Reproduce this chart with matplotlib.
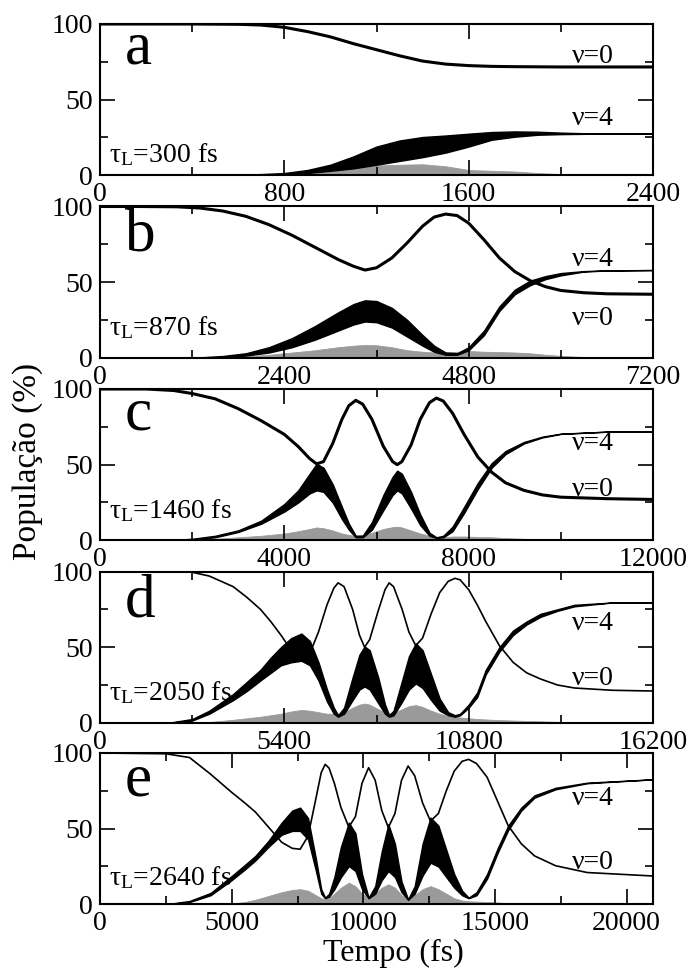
import matplotlib
matplotlib.use('Agg')
import matplotlib.pyplot as plt
from matplotlib.ticker import MultipleLocator

plt.rcParams['font.family'] = ['Liberation Serif', 'DejaVu Serif']
plt.rcParams['mathtext.fontset'] = 'custom'
plt.rcParams['mathtext.rm'] = 'Liberation Serif'
plt.rcParams['mathtext.it'] = 'Liberation Serif:italic'

# panel a, tau_L = 300 fs
a_t = [0, 200, 400, 600, 700, 800, 900, 1000, 1100, 1200, 1300, 1400, 1500, 1600, 1700, 1800, 1900, 2000, 2100, 2200, 2400]
a_nu0 = [100, 100, 100, 99.8, 99.3, 97.8, 95, 91.5, 87, 83, 79, 75.5, 73.5, 72.5, 72, 71.8, 71.7, 71.6, 71.6, 71.6, 71.6]
a_nu4_lo = [0, 0, 0, 0.1, 0.3, 0.7, 1.5, 3, 4.6, 7, 9.5, 12, 15, 19, 23.5, 25.5, 26.8, 27.2, 27.4, 27.5, 27.5]
a_nu4_hi = [0, 0, 0, 0.3, 0.8, 1.5, 3.5, 7, 12.5, 19, 23, 25.3, 26.3, 27.5, 28.6, 29, 28.8, 28.2, 27.8, 27.6, 27.5]
a_gray = [0, 0, 0, 0, 0.3, 1, 2, 4, 5.5, 6.5, 7, 7.3, 6, 3.5, 3, 2.5, 1.5, 0.8, 0.3, 0, 0]

# panel b, tau_L = 870 fs
b_t = [0, 500, 1000, 1300, 1600, 1900, 2200, 2500, 2800, 3100, 3300, 3450, 3600, 3800, 4000, 4200, 4350, 4500,
       4650, 4800, 5000, 5200, 5400, 5600, 5800, 6000, 6300, 6600, 7200]
b_nu0 = [100, 100, 99.8, 99, 97, 93.5, 88, 81, 73, 65, 60.5, 58, 59.5, 66, 76, 87, 93, 95, 94, 89, 78, 66, 57, 51,
         47, 44.5, 43, 42.3, 42]
b_nu4_lo = [0, 0, 0, 0.1, 0.5, 1.5, 3.5, 7, 12, 18, 22, 24, 23.5, 20, 14, 8, 4, 2, 2, 5, 15, 31, 42, 48, 52, 54.5,
            57, 57.7, 58]
b_nu4_hi = [0, 0, 0, 0.3, 1.2, 3, 7, 13, 21, 30, 35.5, 38, 37.5, 33, 25, 15, 8, 3.5, 3, 7, 18, 34, 45, 51, 54, 56,
            57.3, 57.8, 58]
b_gray = [0, 0, 0, 0, 0.3, 1, 2, 3.5, 5, 7, 8, 8.5, 8.3, 7, 5, 4, 3.5, 3.5, 4, 4.5, 4, 3.8, 3.5, 3, 2, 1.3, 0.5, 0, 0]

# panel c, tau_L = 1460 fs
c_t = [0, 1000, 1600, 2000, 2500, 3000, 3500, 4000, 4300, 4550, 4700, 4850, 5050, 5250, 5400, 5550, 5700, 5900,
       6150, 6350, 6450, 6550, 6750, 6950, 7150, 7300, 7450, 7650, 7900, 8200, 8500, 8800, 9200, 9600, 10000,
       11000, 12000]
c_nu0 = [100, 100, 99, 97, 93.5, 87, 79, 70, 62, 54, 50.5, 52, 64, 80, 89, 92.5, 90, 80, 62, 52, 50, 52, 63, 80,
         91, 94, 92, 84, 70, 55, 45, 38, 33, 30, 28.5, 27.5, 27]
c_nu4_lo = [0, 0, 0.1, 0.5, 2, 5.5, 11, 19, 25, 31, 33, 32, 25, 14, 7, 2, 2, 7, 20, 30, 33, 31, 21, 10, 3, 1.5, 2,
            6, 18, 34, 48, 57, 64, 68, 70.3, 71.8, 72]
c_nu4_hi = [0, 0, 0.3, 1, 3, 6.6, 13, 24, 33, 44, 50.5, 48, 37, 22, 11, 3, 3, 12, 30, 42, 46, 44, 32, 17, 5, 2, 3,
            9, 22, 38, 51, 59, 65, 68.5, 70.5, 71.8, 72]
c_gray = [0, 0, 0.2, 0.5, 1, 2, 3, 4.5, 6, 7.5, 8.5, 8, 6.5, 4.5, 3.5, 3, 3.5, 5, 7.5, 8.7, 9, 8.5, 6.5, 4.5, 3, 2,
          2, 2.5, 2.5, 2.2, 2, 1.5, 1, 0.6, 0.3, 0, 0]

# panel d, tau_L = 2050 fs
d_t = [0, 2000, 2700, 3200, 3900, 4300, 4700, 5000, 5300, 5600, 5900, 6150, 6400, 6650, 6850, 6975, 7150, 7400,
       7600, 7750, 7900, 8150, 8350, 8470, 8600, 8850, 9050, 9250, 9450, 9700, 9950, 10200, 10400, 10550, 10800,
       11050, 11300, 11700, 12100, 12500, 12900, 13400, 13900, 15000, 16200]
d_nu0 = [100, 100, 99.5, 97, 90, 83, 75, 67, 58, 48, 41.5, 46, 60, 78, 89, 92.5, 90, 75, 58, 50, 55, 74, 88, 92.5,
         90, 75, 60, 51, 56, 72, 86, 93.5, 95.5, 94.5, 88, 78, 67, 51, 40, 33, 29, 25, 23, 21.5, 21]
d_nu4_lo = [0, 0, 1.5, 6, 15, 21, 28, 33, 38, 40, 41, 38, 28, 14, 6, 4, 6, 15, 22, 24, 22, 13, 6, 4, 5, 14, 22, 26,
            23, 15, 8, 5, 4, 5, 10, 17, 32, 47, 58, 65, 70, 74, 77, 79.5, 79.5]
d_nu4_hi = [0, 0, 2.5, 8, 19, 27, 35, 43, 50, 56, 59, 54, 40, 22, 10, 5, 10, 30, 45, 50.5, 48, 30, 12, 5, 8, 28, 44,
            52.5, 48, 32, 16, 7, 5, 6, 12, 20, 35, 50, 61, 67, 72, 75, 78, 79.5, 79.5]
d_gray = [0, 0, 0, 0.5, 2, 3, 4, 5, 6, 7.5, 8.5, 8, 7, 6, 6, 6, 7, 10, 12, 12.7, 12, 9, 7, 6, 6.5, 9, 11, 11.7, 10.5,
          8, 6, 4.5, 4, 3.5, 3, 2.5, 2.2, 1.8, 1.5, 1.2, 1, 0.6, 0.3, 0, 0]

# panel e, tau_L = 2640 fs
e_t = [0, 2500, 3400, 4200, 5000, 5500, 5900, 6400, 6900, 7300, 7600, 7900, 8200, 8400, 8550, 8700, 8900, 9150,
       9450, 9700, 9950, 10200, 10450, 10700, 10950, 11200, 11450, 11700, 11950, 12250, 12550, 12850, 13150, 13450,
       13750, 14000, 14300, 14700, 15100, 15500, 16000, 16500, 17300, 18500, 21000]
e_nu0 = [100, 99.5, 97, 86, 74, 67, 61, 51, 41, 37, 36.4, 45, 70, 87, 92.5, 90, 80, 64, 51, 58, 80, 90.3, 82, 62,
         50.7, 60, 82, 91.4, 85, 67, 55, 60, 75, 88, 94.5, 95.8, 93, 84, 68, 52, 40, 32, 25.5, 21, 18.7]
e_nu4_lo = [0, 0, 1.5, 6, 16, 23, 29, 38, 46, 48.5, 48.5, 43, 22, 7, 4, 5, 10, 18, 25.3, 22, 10, 4, 7, 16, 22, 18, 8,
            3, 7, 19, 27.5, 25, 18, 11, 6, 4, 6, 17, 34, 49, 62, 70.5, 76, 80, 82.6]
e_nu4_hi = [0, 0, 2.2, 7.5, 18.7, 26, 32, 42, 54, 62, 63.9, 57, 30, 10, 4.4, 7, 18, 38, 54, 47, 20, 4.4, 12, 35,
            52.9, 40, 15, 3.3, 12, 40, 57.3, 52, 36, 20, 9, 4.4, 8, 20, 37, 52, 64, 72, 77, 80.4, 82.6]
e_gray = [0, 0, 0, 0, 0.5, 1.5, 3, 5.5, 8, 9.5, 10, 9, 6, 4, 3.3, 4, 7, 11, 14.3, 12, 7, 4.4, 7, 11, 13.2, 11, 6,
          3.3, 6, 10, 12, 10, 7, 4, 2.5, 2, 1.8, 1.5, 1.2, 0.8, 0.5, 0.3, 0, 0, 0]

letters = ['a', 'b', 'c', 'd', 'e']
taus = ['300', '870', '1460', '2050', '2640']
xmaxs = [2400, 7200, 12000, 16200, 21000]
xsteps = [800, 2400, 4000, 5400, 5000]
series = [
    (a_t, a_nu0, a_nu4_lo, a_nu4_hi, a_gray),
    (b_t, b_nu0, b_nu4_lo, b_nu4_hi, b_gray),
    (c_t, c_nu0, c_nu4_lo, c_nu4_hi, c_gray),
    (d_t, d_nu0, d_nu4_lo, d_nu4_hi, d_gray),
    (e_t, e_nu0, e_nu4_lo, e_nu4_hi, e_gray),
]

# layout (pixels of the 691x968 figure)
W, H = 691, 968
ax_left, ax_w, ax_h = 100, 553, 151.3
ax_tops = [24, 206.5, 389, 571.5, 753]
letter_y = [0.742, 0.71, 0.73, 0.70, 0.72]
tau_y = [0.086, 0.15, 0.145, 0.15, 0.126]
nu4_label_y = [33, 60.5, 60, 61.3, 65.4]
nu0_label_y = [74.4, 21.5, 29, 24.9, 23.6]
nu0_lw = [2.2, 2.2, 2.2, 1.2, 1.2]

fig = plt.figure(figsize=(W / 100, H / 100), dpi=100)

for i in range(5):
    t, nu0, lo, hi, gray = series[i]
    top = ax_tops[i]
    ax = fig.add_axes([ax_left / W, 1 - (top + ax_h) / H, ax_w / W, ax_h / H])
    ax.fill_between(t, 0, gray, color='#9a9a9a', linewidth=0.6, edgecolor='#9a9a9a', zorder=1)
    ax.fill_between(t, lo, hi, color='black', linewidth=1.0, edgecolor='black', zorder=2)
    ax.plot(t, nu0, color='black', linewidth=nu0_lw[i], zorder=3)

    ax.set_xlim(0, xmaxs[i])
    ax.set_ylim(0, 100)
    ax.xaxis.set_major_locator(MultipleLocator(xsteps[i]))
    ax.xaxis.set_minor_locator(MultipleLocator(xsteps[i] / 2))
    ax.yaxis.set_major_locator(MultipleLocator(50))
    ax.yaxis.set_minor_locator(MultipleLocator(25))
    ax.tick_params(which='both', direction='in', top=True, right=True, labelsize=20, width=1.2)
    ax.tick_params(which='major', length=11, pad=5)
    ax.tick_params(which='minor', length=5.5)
    for sp in ax.spines.values():
        sp.set_linewidth(1.5)
        sp.set_zorder(5)

    ax.text(0.045, letter_y[i], letters[i], transform=ax.transAxes, fontsize=44, va='baseline')
    ax.text(0.017, tau_y[i], r'$\mathrm{\tau_L}$=' + taus[i] + ' fs', transform=ax.transAxes, fontsize=20,
            va='baseline')
    ax.text(0.853, nu4_label_y[i], 'ν=4', transform=ax.get_yaxis_transform(), fontsize=20, va='baseline')
    ax.text(0.853, nu0_label_y[i], 'ν=0', transform=ax.get_yaxis_transform(), fontsize=20, va='baseline')

fig.text(28 / W, 1 - 461 / H, 'População (%)', rotation=90, ha='center', va='center', fontsize=24)
fig.text(393 / W, 1 - 953 / H, 'Tempo (fs)', ha='center', va='center', fontsize=23)

plt.savefig('out.png', dpi=100)
plt.close()
